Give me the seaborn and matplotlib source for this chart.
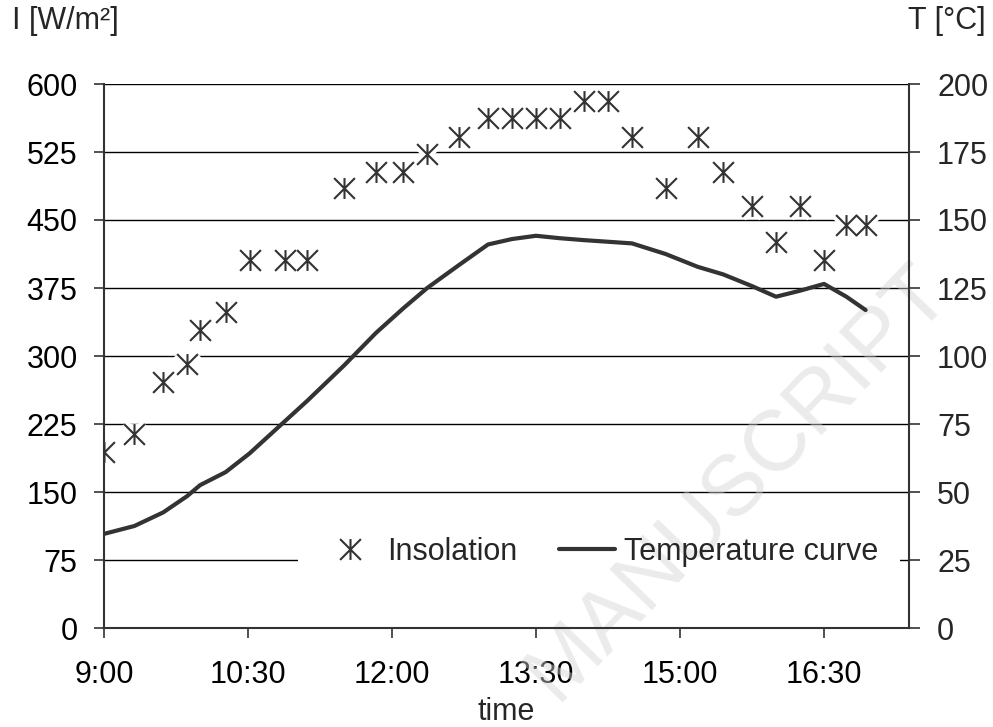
import numpy as np
import pandas as pd
import matplotlib
matplotlib.use("Agg")
import matplotlib.pyplot as plt
from matplotlib.path import Path
from matplotlib.lines import Line2D
from matplotlib.patches import Rectangle
import seaborn as sns

# ---- data ----
times = ["9:00", "9:19", "9:37", "9:52", "10:00", "10:16", "10:31", "10:53", "11:07", "11:30",
         "11:50", "12:07", "12:22", "12:42", "13:00", "13:15", "13:30", "13:45", "14:00", "14:15",
         "14:30", "14:51", "15:11", "15:27", "15:45", "16:00", "16:15", "16:30", "16:44", "16:56"]
insolation = [194, 214, 271, 291, 329, 348, 406, 406, 406, 485,
              503, 503, 523, 542, 562, 562, 562, 562, 581, 581,
              542, 485, 542, 503, 465, 426, 465, 406, 445, 445]
temperature = [34.6, 37.5, 42.5, 48.5, 52.5, 57.3, 64.2, 76.0, 83.5, 96.5,
               108.5, 117.5, 125.0, 133.5, 141.0, 143.0, 144.2, 143.3, 142.6, 142.0,
               141.4, 137.5, 132.8, 130.0, 125.7, 121.8, 124.0, 126.5, 121.8, 116.9]
xtick_labels = ["9:00", "10:30", "12:00", "13:30", "15:00", "16:30"]
left_ticks = [0, 75, 150, 225, 300, 375, 450, 525, 600]
right_ticks = [0, 25, 50, 75, 100, 125, 150, 175, 200]


def to_min(s):
    h, m = s.split(":")
    return (int(h) - 9) * 60 + int(m)


df = pd.DataFrame({"t": [to_min(s) for s in times],
                   "I": insolation, "T": temperature})

sns.set_theme(style="white")
plt.rcParams["font.family"] = ["Liberation Sans", "DejaVu Sans"]
FS = 22

fig = plt.figure(figsize=(9.93, 7.27), dpi=100)

ax = fig.add_axes([104 / 993, 1 - 628 / 727, (909.3 - 104) / 993, (628 - 84) / 727])
ax.set_facecolor("none")
ax2 = ax.twinx()
ax2.set_facecolor("none")

# white patch behind the legend (breaks the gridline like the reference)
ax.add_patch(Rectangle((0.2409, 0.0974), 0.9885 - 0.2409, 0.083, transform=ax.transAxes,
                       facecolor="white", edgecolor="none", zorder=0.55))

# faint watermark
ax.text(738 / 993, 1 - 482 / 727, "MANUSCRIPT", fontsize=62, color="#d4d4d4", alpha=0.45,
        rotation=46, ha="center", va="center", transform=fig.transFigure, clip_on=False,
        zorder=0.6)

star = Path([(-1, -1), (1, 1), (-1, 1), (1, -1), (0, -1), (0, 1)],
            [Path.MOVETO, Path.LINETO, Path.MOVETO, Path.LINETO, Path.MOVETO, Path.LINETO])

# white halo behind markers, then markers
sns.lineplot(data=df, x="t", y="I", ax=ax, linestyle="none", marker=star, markersize=15,
             markeredgewidth=7, markeredgecolor="white", markerfacecolor="none", legend=False,
             zorder=3)
sns.lineplot(data=df, x="t", y="I", ax=ax, linestyle="none", marker=star, markersize=15,
             markeredgewidth=1.5, markeredgecolor="#333333", markerfacecolor="none",
             legend=False, zorder=4)

sns.lineplot(data=df, x="t", y="T", ax=ax2, color="#333333", linewidth=3.0, legend=False,
             zorder=5)

xmax = (909.3 - 104) / 1.6
for a in (ax, ax2):
    a.set_xlim(0, xmax)
ax.set_ylim(0, 600)
ax2.set_ylim(0, 200)
ax.set_xticks([to_min(s) for s in xtick_labels])
ax.set_xticklabels(xtick_labels)
ax.set_yticks(left_ticks)
ax2.set_yticks(right_ticks)
ax.set_xlabel("time", fontsize=FS, labelpad=5)
ax.set_ylabel("")
ax2.set_ylabel("")

ax.yaxis.grid(True, color="black", linewidth=1.0)
ax.xaxis.grid(False)
ax2.grid(False)
ax.set_axisbelow(True)

for a in (ax, ax2):
    for s in a.spines.values():
        s.set_visible(False)
ax.spines["left"].set_visible(True)
ax.spines["bottom"].set_visible(True)
ax2.spines["right"].set_visible(True)
for s in (ax.spines["left"], ax.spines["bottom"], ax2.spines["right"]):
    s.set_color("#333333")
    s.set_linewidth(1.5)

ax.tick_params(axis="x", which="major", direction="out", length=7, width=1.2,
               color="#333333", labelsize=FS, pad=16, labelcolor="black", bottom=True)
ax.tick_params(axis="y", which="major", direction="out", length=7, width=1.2,
               color="#333333", labelsize=FS, pad=12, labelcolor="black", left=True)
ax2.tick_params(axis="y", direction="out", length=8, width=1.2, color="#333333",
                labelsize=FS, pad=12, right=True)

fig.text(12 / 993, 1 - 21 / 727, "I [W/m²]", fontsize=FS, ha="left", va="center")
fig.text(986 / 993, 1 - 21 / 727, "T [°C]", fontsize=FS, ha="right", va="center")

handles = [Line2D([], [], linestyle="none", marker=star, markersize=15, markeredgewidth=1.5,
                  markeredgecolor="#333333", markerfacecolor="none"),
           Line2D([], [], color="#333333", linewidth=3.0)]
leg = ax2.legend(handles, ["Insolation", "Temperature curve"], ncol=2, loc="center",
                 bbox_to_anchor=(0.616, 0.14), fontsize=FS, frameon=False,
                 handlelength=1.83, handletextpad=0.3, columnspacing=1.35, borderpad=0.6)

fig.savefig("out.png", dpi=100)
